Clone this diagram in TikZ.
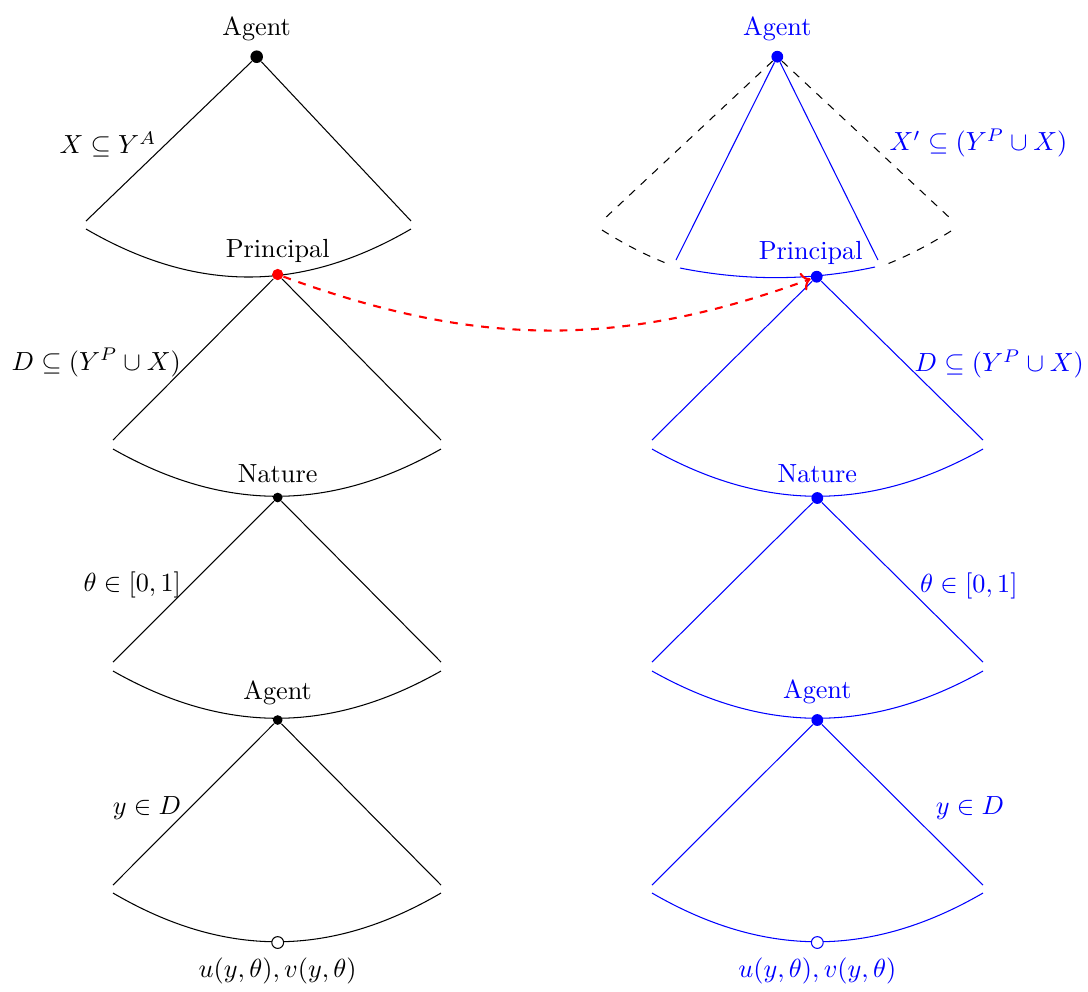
\documentclass[tikz,border=0pt]{standalone}
\usetikzlibrary{arrows.meta}
\begin{document}
\begin{tikzpicture}[x=0.38168pt,y=-0.38168pt,
  bigdot/.style={circle,fill,inner sep=0pt,minimum size=4.8pt},
  smalldot/.style={circle,fill,inner sep=0pt,minimum size=3.7pt},
  reddot/.style={circle,fill=red,inner sep=0pt,minimum size=4.3pt},
  bluedot/.style={circle,fill,inner sep=0pt,minimum size=4.5pt},
  opendot/.style={circle,draw,fill=white,inner sep=0pt,minimum size=4.5pt},
  lblL/.style={pos=0.52,anchor=east},
  lblR/.style={pos=0.52,anchor=west},
  move/.style={red,thick,dashed,-{To}}]
\useasboundingbox (0,0) rectangle (1088,991);

% ---------- left column: arcs ----------
\coordinate (L1a) at (86,229);  \coordinate (L1b) at (411,229);
\coordinate (L2a) at (113,449); \coordinate (L2b) at (441,449);
\coordinate (L3a) at (113,671); \coordinate (L3b) at (441,671);
\coordinate (L4a) at (113,893); \coordinate (L4b) at (441,893);
\draw (L1a) .. controls (196,293) and (301,293) .. (L1b);
\draw (L2a) .. controls (224,512) and (330,512) .. (L2b);
\draw (L3a) .. controls (224,734) and (330,734) .. (L3b);
\draw (L4a) .. controls (224,958) and (330,958) .. (L4b);

% line ends
\coordinate (L1l) at (86,221);  \coordinate (L1r) at (411,221);
\coordinate (L2l) at (113,440); \coordinate (L2r) at (441,440);
\coordinate (L3l) at (113,662); \coordinate (L3r) at (441,662);
\coordinate (L4l) at (113,885); \coordinate (L4r) at (441,885);

% nodes
\node[bigdot,label=above:Agent] (LA) at (256.7,56.7) {};
\node[reddot,label={[label distance=-1.5pt]above:Principal}] (LP) at (277.7,274.5) {};
\node[smalldot,label=above:Nature] (LN) at (277.7,497.5) {};
\node[smalldot,label=above:Agent] (LA2) at (277.7,720) {};
\node[opendot,label=below:{$u(y,\theta),v(y,\theta)$}] (LU) at (277.7,942.5) {};

\draw (LA) -- node[lblL] {$X\subseteq Y^A$} (L1l);
\draw (LA) -- (L1r);
\draw (LP) -- node[lblL] {$D\subseteq (Y^P\cup X)$} (L2l);
\draw (LP) -- (L2r);
\draw (LN) -- node[lblL] {$\theta\in[0,1]$} (L3l);
\draw (LN) -- (L3r);
\draw (LA2) -- node[lblL] {$y\in D$} (L4l);
\draw (LA2) -- (L4r);

% ---------- right column ----------
\begin{scope}[blue]
\coordinate (R0a) at (602,230); \coordinate (R0b) at (951,231);
\coordinate (R0m) at (664.5,262.5); \coordinate (R0n) at (888.5,263.5);
\coordinate (R1a) at (680,268); \coordinate (R1b) at (875,267);
\coordinate (R2a) at (652,449); \coordinate (R2b) at (983,449);
\coordinate (R3a) at (652,671); \coordinate (R3b) at (983,671);
\coordinate (R4a) at (652,893); \coordinate (R4b) at (983,893);
\draw[black,dashed] (R0a) .. controls (622.8,243.2) and (643.6,254.1) .. (R0m);
\draw[black,dashed] (R0b) .. controls (930.2,244.2) and (909.4,255.0) .. (R0n);
\draw (R1a) .. controls (745,281) and (810,281) .. (R1b);
\draw (R2a) .. controls (764,512) and (871,512) .. (R2b);
\draw (R3a) .. controls (764,734) and (871,734) .. (R3b);
\draw (R4a) .. controls (764,958) and (871,958) .. (R4b);

\coordinate (R0l) at (603,220); \coordinate (R0r) at (951,219);
\coordinate (R1l) at (676,260); \coordinate (R1r) at (878,260);
\coordinate (R2l) at (652,440); \coordinate (R2r) at (983,440);
\coordinate (R3l) at (652,662); \coordinate (R3r) at (983,662);
\coordinate (R4l) at (652,885); \coordinate (R4r) at (983,885);

\node[bluedot,label=above:Agent] (RA) at (777.3,56.7) {};
\node[bluedot,label={[xshift=-2.3pt,label distance=-1.5pt]above:Principal}] (RP) at (816.7,276.7) {};
\node[bluedot,label=above:Nature] (RN) at (817.3,498) {};
\node[bluedot,label=above:Agent] (RA2) at (817.3,720) {};
\node[opendot,label=below:{$u(y,\theta),v(y,\theta)$}] (RU) at (817.3,942.5) {};

\draw[black,dashed] (RA) -- (R0l);
\draw[black,dashed] (RA) -- node[lblR,xshift=4pt,text=blue] {$X'\subseteq (Y^P\cup X)$} (R0r);
\draw (RA) -- (R1l);
\draw (RA) -- (R1r);
\draw (RP) -- (R2l);
\draw (RP) -- node[lblR] {$D\subseteq (Y^P\cup X)$} (R2r);
\draw (RN) -- (R3l);
\draw (RN) -- node[lblR,xshift=2pt] {$\theta\in[0,1]$} (R3r);
\draw (RA2) -- (R4l);
\draw (RA2) -- node[lblR,xshift=8pt] {$y\in D$} (R4r);
\end{scope}

% ---------- red move ----------
\draw[move] (LP) .. controls (475,347) and (619,349) .. (RP);
\end{tikzpicture}
\end{document}
